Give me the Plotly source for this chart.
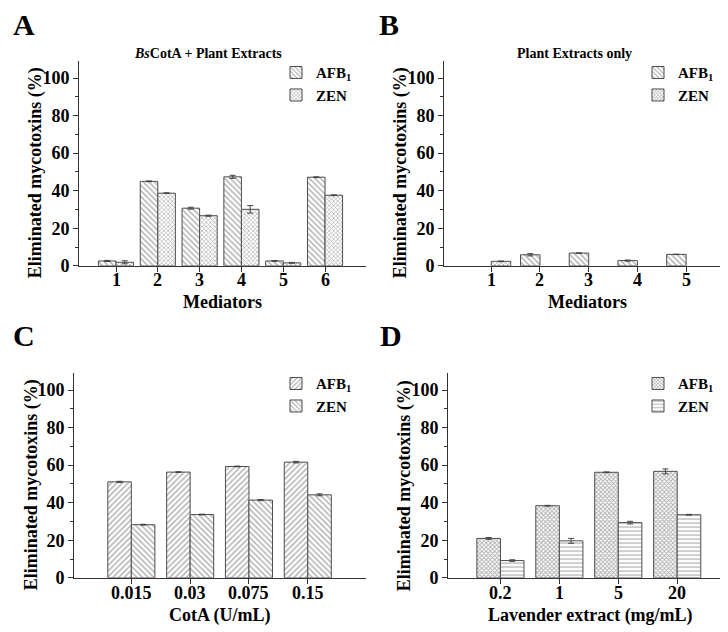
import plotly.graph_objects as go

FONT = "Liberation Serif"
W, H = 728, 632

# Panel A: BsCotA + plant extracts, mediators 1-6
a_mediators = [1, 2, 3, 4, 5, 6]
a_afb1 = [2.6, 45.0, 30.7, 47.4, 2.6, 47.2]
a_afb1_err = [0.3, 0.2, 0.5, 0.8, 0.2, 0.2]
a_zen = [1.9, 38.7, 26.7, 30.1, 1.6, 37.6]
a_zen_err = [0.8, 0.2, 0.3, 2.0, 0.2, 0.2]

# Panel B: plant extracts only, mediators 1-5
b_mediators = [1, 2, 3, 4, 5]
b_afb1 = [None, 5.9, 6.8, 2.8, 6.1]
b_afb1_err = [0, 0.6, 0.1, 0.3, 0.1]
b_zen = [2.4, None, None, None, None]
b_zen_err = [0.2, 0, 0, 0, 0]

# Panel C: CotA dose (U/mL)
c_labels = ["0.015", "0.03", "0.075", "0.15"]
c_afb1 = [51.1, 56.3, 59.3, 61.6]
c_afb1_err = [0.3, 0.2, 0.2, 0.4]
c_zen = [28.3, 33.7, 41.4, 44.2]
c_zen_err = [0.2, 0.2, 0.3, 0.5]

# Panel D: lavender extract (mg/mL)
d_labels = ["0.2", "1", "5", "20"]
d_afb1 = [21.0, 38.4, 56.2, 56.7]
d_afb1_err = [0.5, 0.2, 0.2, 1.3]
d_zen = [9.2, 19.7, 29.4, 33.6]
d_zen_err = [0.4, 1.3, 0.7, 0.2]

EDGE = "#4d4d4d"


def px_x(a, b):
    return [a / W, b / W]


def px_y(top, bottom):
    return [1 - bottom / H, 1 - top / H]


def bars(x, y, err, name, shape, axis, legend, left, width, solidity=0.35, size=4):
    return go.Bar(
        x=x, y=y, name=name,
        width=width, offset=-width if left else 0,
        marker=dict(
            color="white",
            line=dict(color=EDGE, width=1),
            pattern=dict(shape=shape, size=size, solidity=solidity, fgcolor="#5a5a5a", bgcolor="white"),
        ),
        error_y=dict(type="data", array=err, color="#444444", thickness=1, width=3),
        xaxis="x" + axis, yaxis="y" + axis,
        legend=legend,
    )


fig = go.Figure()
AFB = "AFB<sub>1</sub>"

fig.add_trace(bars(a_mediators, a_afb1, a_afb1_err, AFB, "\\", "", "legend", True, 0.42))
fig.add_trace(bars(a_mediators, a_zen, a_zen_err, "ZEN", "x", "", "legend", False, 0.42, 0.4, 3))
fig.add_trace(bars(b_mediators, b_afb1, b_afb1_err, AFB, "\\", "2", "legend2", True, 0.4))
fig.add_trace(bars(b_mediators, b_zen, b_zen_err, "ZEN", "x", "2", "legend2", False, 0.4, 0.45, 3))
fig.add_trace(bars(c_labels, c_afb1, c_afb1_err, AFB, "/", "3", "legend3", True, 0.4))
fig.add_trace(bars(c_labels, c_zen, c_zen_err, "ZEN", "\\", "3", "legend3", False, 0.4))
fig.add_trace(bars(d_labels, d_afb1, d_afb1_err, AFB, "x", "4", "legend4", True, 0.4, 0.5, 3))
fig.add_trace(bars(d_labels, d_zen, d_zen_err, "ZEN", "-", "4", "legend4", False, 0.4, 0.3, 4))

TICKFONT = dict(size=18, family=FONT, color="black", weight="bold")
axis_common = dict(
    showline=True, linecolor="#333333", linewidth=1,
    ticks="outside", ticklen=5, tickcolor="#333333",
    showgrid=False, zeroline=False, tickfont=TICKFONT,
)
# x tick labels are drawn as annotations (sit closer to the axis than plotly allows)
xaxis_common = dict(axis_common, showticklabels=False)
yaxis_common = dict(
    axis_common, range=[0, 109], dtick=20,
    minor=dict(ticks="outside", dtick=10, ticklen=3, tickcolor="#333333"),
)

fig.update_layout(
    xaxis=dict(xaxis_common, domain=px_x(71, 358), range=[0.115, 6.98], dtick=1, anchor="y"),
    yaxis=dict(yaxis_common, domain=px_y(54, 262), anchor="x"),
    xaxis2=dict(xaxis_common, domain=px_x(436, 722), range=[0.03, 5.9], dtick=1, anchor="y2"),
    yaxis2=dict(yaxis_common, domain=px_y(54, 262), anchor="x2"),
    xaxis3=dict(xaxis_common, domain=px_x(66, 358), range=[-0.975, 3.99], type="category", anchor="y3"),
    yaxis3=dict(yaxis_common, domain=px_y(371, 579), anchor="x3"),
    xaxis4=dict(xaxis_common, domain=px_x(440, 724), range=[-0.89, 3.93], type="category", anchor="y4"),
    yaxis4=dict(yaxis_common, domain=px_y(371, 579), anchor="x4"),
)

legend_common = dict(
    xanchor="left", yanchor="top", bgcolor="rgba(0,0,0,0)",
    font=dict(size=15, family=FONT, color="black", weight="bold"),
    tracegroupgap=0, itemwidth=30,
)
fig.update_layout(
    legend=dict(legend_common, x=268 / W, y=1 - 49 / H),
    legend2=dict(legend_common, x=630 / W, y=1 - 49 / H),
    legend3=dict(legend_common, x=268 / W, y=1 - 365 / H),
    legend4=dict(legend_common, x=630 / W, y=1 - 365 / H),
)


def note(text, x, y, size, angle=0):
    fig.add_annotation(
        text=text, x=x / W, y=1 - y / H, xref="paper", yref="paper",
        showarrow=False, textangle=angle, xanchor="center", yanchor="middle",
        font=dict(size=size, family=FONT, color="black", weight="bold"),
    )


def xticks(labels, positions, xref, y):
    for text, pos in zip(labels, positions):
        fig.add_annotation(
            text=str(text), x=pos, y=1 - y / H, xref=xref, yref="paper",
            showarrow=False, xanchor="center", yanchor="middle", font=TICKFONT,
        )


xticks(a_mediators, a_mediators, "x", 276)
xticks(b_mediators, b_mediators, "x2", 276)
# category axes: annotation positions are category indices
xticks(c_labels, range(len(c_labels)), "x3", 594)
xticks(d_labels, range(len(d_labels)), "x4", 594)

note("A", 16, 17, 30)
note("B", 381, 17, 30)
note("C", 16, 333, 30)
note("D", 383, 333, 30)
note("<i>Bs</i>CotA + Plant Extracts", 200, 46, 14)
note("Plant Extracts only", 566, 46, 14)
note("Eliminated mycotoxins (%)", 27, 168, 18, -90)
note("Eliminated mycotoxins (%)", 392, 168, 18, -90)
note("Eliminated mycotoxins (%)", 23, 485, 18, -90)
note("Eliminated mycotoxins (%)", 396, 485, 18, -90)
note("Mediators", 214, 299, 18)
note("Mediators", 579, 299, 18)
note("CotA (U/mL)", 212, 617, 18)
note("Lavender extract (mg/mL)", 582, 617, 18)

fig.update_layout(
    width=W, height=H,
    margin=dict(l=0, r=0, t=0, b=0),
    paper_bgcolor="white", plot_bgcolor="white",
    barmode="group",
    font=dict(family=FONT, color="black"),
)

fig.write_html("out.html")
